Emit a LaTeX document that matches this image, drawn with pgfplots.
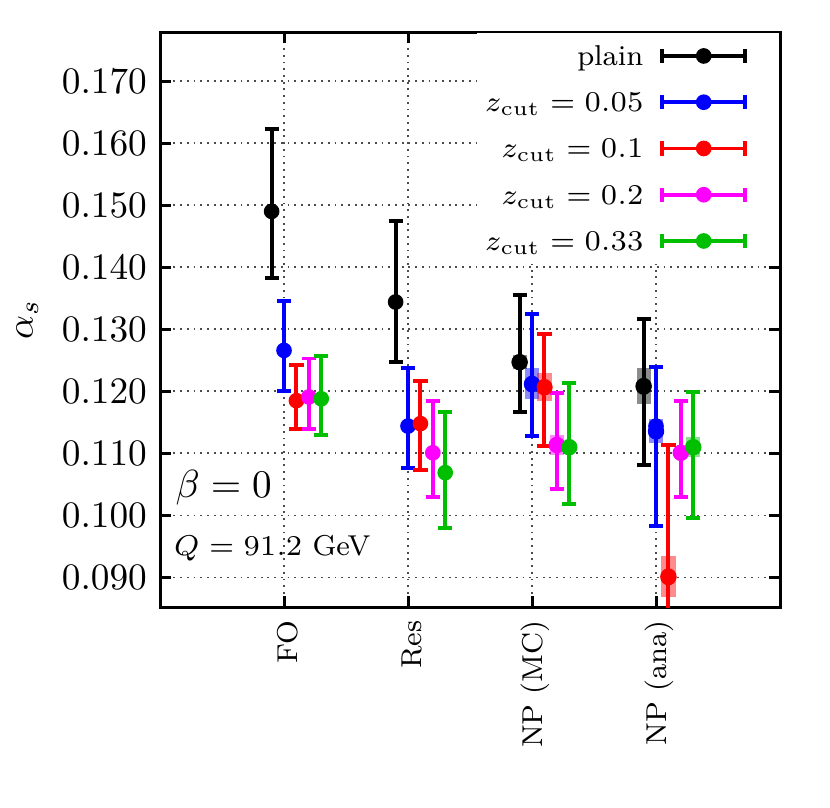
\RequirePackage{fix-cm}
\documentclass[border=0pt]{standalone}
\usepackage{pgfplots}
\usepackage{pgfplotstable}
\pgfplotsset{compat=1.18}

\definecolor{zgreen}{RGB}{0,190,0}
\definecolor{zmag}{RGB}{255,0,255}
\definecolor{zblue}{RGB}{0,0,255}
\definecolor{zred}{RGB}{255,0,0}

% x = category (1 FO, 2 Res, 3 NP(MC), 4 NP(ana)) + offset of the series
\pgfplotstableread{
x   y      lo     hi
0.9 0.1490 0.1382 0.1623
1.9 0.1344 0.1247 0.1474
2.9 0.1247 0.1167 0.1355
3.9 0.1207 0.1082 0.1316
}\plain
\pgfplotstableread{
x   y      lo     hi
1.0 0.1266 0.1200 0.1345
2.0 0.1144 0.1076 0.1238
3.0 0.1211 0.1128 0.1325
4.0 0.1144 0.0983 0.1239
}\zA
\pgfplotstableread{
x   y      lo     hi
1.1 0.1185 0.1139 0.1242
2.1 0.1148 0.1073 0.1216
3.1 0.1207 0.1112 0.1293
4.1 0.0900 0.0687 0.1113
}\zB
\pgfplotstableread{
x   y      lo     hi
1.2 0.1191 0.1139 0.1253
2.2 0.1101 0.1030 0.1185
3.2 0.1114 0.1042 0.1197
4.2 0.1101 0.1030 0.1185
}\zC
\pgfplotstableread{
x   y      lo     hi
1.3 0.1188 0.1129 0.1257
2.3 0.1069 0.0980 0.1166
3.3 0.1110 0.1018 0.1214
4.3 0.1110 0.0996 0.1199
}\zD

% shaded (systematic) boxes of the NP columns
\pgfplotstableread{
x   lo     hi
2.9 0.1236 0.1258
3.9 0.1180 0.1237
}\plainbox
\pgfplotstableread{
x   lo     hi
3.0 0.1187 0.1237
4.0 0.1116 0.1155
}\zAbox
\pgfplotstableread{
x   lo     hi
3.1 0.1184 0.1229
4.1 0.0868 0.0935
}\zBbox
\pgfplotstableread{
x   lo     hi
3.2 0.1098 0.1129
4.2 0.1095 0.1107
}\zCbox
\pgfplotstableread{
x   lo     hi
3.3 0.1102 0.1118
4.3 0.1094 0.1126
}\zDbox

\pgfplotsset{
  ebar/.style={only marks, mark=*, mark size=1.9pt,
    error bars/.cd, y dir=both, y explicit,
    error bar style={line width=1.05pt},
    error mark options={line width=1.05pt, mark size=1.9pt, rotate=90},
    /pgfplots/.cd},
  sysbox/.style={only marks, mark=none, forget plot,
    error bars/.cd, y dir=both, y explicit, error mark=none,
    error bar style={line width=3.8pt, opacity=0.45},
    /pgfplots/.cd},
  legend image code/.code={
    \draw[#1, line width=1.05pt, mark=none] (0pt,0pt) -- (22.3pt,0pt);
    \draw[#1, line width=1.05pt, mark=none] (0pt,-1.9pt) -- (0pt,1.9pt)
      (22.3pt,-1.9pt) -- (22.3pt,1.9pt);
    \fill[#1] (11.15pt,0pt) circle (1.9pt);
    \path (29.2pt,0pt);
  },
}

\begin{document}
\begin{tikzpicture}
\path[use as bounding box] (-42.9pt,-53.6pt) rectangle (179.6pt,162.8pt);
\begin{axis}[
  scale only axis,
  width=166.2pt, height=154.2pt,
  xmin=0, xmax=5,
  ymin=0.0852, ymax=0.1779,
  xtick={1,2,3,4},
  xticklabels={FO,Res,NP (MC),NP (ana)},
  ytick={0.09,0.10,0.11,0.12,0.13,0.14,0.15,0.16,0.17},
  scaled y ticks=false,
  yticklabel style={/pgf/number format/.cd, fixed, fixed zerofill, precision=3},
  xticklabel style={rotate=90, anchor=east, font=\fontsize{7.7}{9}\selectfont, yshift=-1pt},
  tick align=inside,
  major tick length=3pt,
  every tick/.style={black, line width=0.8pt},
  axis line style={line width=0.8pt},
  grid=major,
  grid style={black!70, line width=0.5pt, dash pattern=on 0.5pt off 1.3pt},
  ylabel={$\alpha_s$},
  ylabel style={at={(axis description cs:-0.214,0.5)}, anchor=center},
  legend style={
    at={(1,1)}, anchor=north east,
    draw=none, fill=white,
    font=\fontsize{7.7}{9}\selectfont,
    inner xsep=2pt, inner ysep=0pt,
    row sep=0pt,
    nodes={inner sep=0pt, text height=8.7pt, text depth=3.7pt},
    /tikz/every odd column/.append style={column sep=4.5pt},
  },
  legend cell align=right,
  legend plot pos=right,
]
% systematic boxes (behind)
\addplot[black, sysbox] table[x=x, y expr=(\thisrow{lo}+\thisrow{hi})/2,
  y error expr=(\thisrow{hi}-\thisrow{lo})/2] {\plainbox};
\addplot[zblue, sysbox] table[x=x, y expr=(\thisrow{lo}+\thisrow{hi})/2,
  y error expr=(\thisrow{hi}-\thisrow{lo})/2] {\zAbox};
\addplot[zred, sysbox] table[x=x, y expr=(\thisrow{lo}+\thisrow{hi})/2,
  y error expr=(\thisrow{hi}-\thisrow{lo})/2] {\zBbox};
\addplot[zmag, sysbox] table[x=x, y expr=(\thisrow{lo}+\thisrow{hi})/2,
  y error expr=(\thisrow{hi}-\thisrow{lo})/2] {\zCbox};
\addplot[zgreen, sysbox] table[x=x, y expr=(\thisrow{lo}+\thisrow{hi})/2,
  y error expr=(\thisrow{hi}-\thisrow{lo})/2] {\zDbox};

% main points
\addplot[black, ebar] table[x=x, y=y,
  y error plus expr=\thisrow{hi}-\thisrow{y},
  y error minus expr=\thisrow{y}-\thisrow{lo}] {\plain};
\addplot[zblue, ebar] table[x=x, y=y,
  y error plus expr=\thisrow{hi}-\thisrow{y},
  y error minus expr=\thisrow{y}-\thisrow{lo}] {\zA};
\addplot[zred, ebar] table[x=x, y=y,
  y error plus expr=\thisrow{hi}-\thisrow{y},
  y error minus expr=\thisrow{y}-\thisrow{lo}] {\zB};
\addplot[zmag, ebar] table[x=x, y=y,
  y error plus expr=\thisrow{hi}-\thisrow{y},
  y error minus expr=\thisrow{y}-\thisrow{lo}] {\zC};
\addplot[zgreen, ebar] table[x=x, y=y,
  y error plus expr=\thisrow{hi}-\thisrow{y},
  y error minus expr=\thisrow{y}-\thisrow{lo}] {\zD};
\legend{plain, $z_{\mathrm{cut}} = 0.05$, $z_{\mathrm{cut}} = 0.1$,
  $z_{\mathrm{cut}} = 0.2$, $z_{\mathrm{cut}} = 0.33$}

\node[anchor=west, font=\fontsize{10.5}{12}\selectfont] at (axis cs:0.02,0.1045) {$\beta = 0$};
\node[anchor=west, font=\fontsize{7.7}{9}\selectfont] at (axis cs:0.005,0.0947) {$Q = 91.2$ GeV};
\end{axis}
\end{tikzpicture}
\end{document}
